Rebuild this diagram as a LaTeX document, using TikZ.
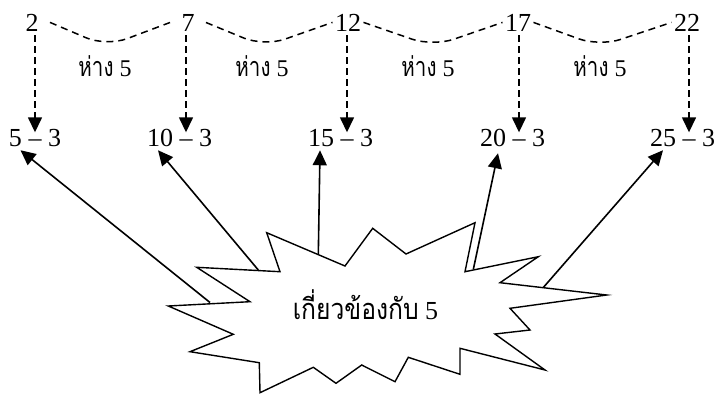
\documentclass[tikz,border=0pt]{standalone}
\usepackage{fontspec}
\setmainfont{Liberation Serif}
\newfontfamily\thaifont[Script=Thai, FakeStretch=0.76]{Loma}
\newfontfamily\thaiburst[Script=Thai, FakeStretch=0.85]{Loma}
\usetikzlibrary{arrows.meta,calc}
\begin{document}
\begin{tikzpicture}[x=1pt,y=-1pt,
  topnum/.style={font=\fontsize{26}{30}\selectfont, inner xsep=0pt, inner ysep=4pt, outer sep=0pt, minimum width=31pt},
  wide/.style={minimum width=36pt},
  num/.style={font=\fontsize{26}{30}\selectfont, inner xsep=0pt, inner ysep=4pt, outer sep=0pt},
  dashnode/.style={font=\fontsize{26}{30}\selectfont, inner xsep=0pt, inner ysep=7pt, outer sep=0pt},
  gaplabel/.style={font=\fontsize{24}{28}\selectfont, inner sep=0pt},
  burstlabel/.style={font=\fontsize{26}{30}\selectfont, inner sep=0pt},
  dashedlink/.style={line width=1.5pt, dash pattern=on 7pt off 5pt, rounded corners=22pt},
  dashedarrow/.style={line width=1.5pt, dash pattern=on 7pt off 4pt, -{Triangle[length=15pt,width=14pt]}},
  solidarrow/.style={line width=1.6pt, -{Triangle[length=15pt,width=14pt]}},
  burst/.style={line width=1.4pt, line join=miter}
]
\useasboundingbox (0,0) rectangle (720,394);

% top row
\node[topnum, wide, anchor=base] (t1) at (32,31) {2};
\node[topnum, wide, anchor=base] (t2) at (188,31) {7};
\node[topnum, anchor=base] (t3) at (348,31) {12};
\node[topnum, anchor=base] (t4) at (518,31) {17};
\node[topnum, anchor=base] (t5) at (687,31) {22};

% wavy dashed links
\draw[dashedlink] (t1.east) -- ($(t1.east)!0.47!(t2.west)+(0,24)$) -- (t2.west);
\draw[dashedlink] (t2.east) -- ($(t2.east)!0.46!(t3.west)+(0,24)$) -- (t3.west);
\draw[dashedlink] (t3.east) -- ($(t3.east)!0.50!(t4.west)+(0,24)$) -- (t4.west);
\draw[dashedlink] (t4.east) -- ($(t4.east)!0.48!(t5.west)+(0,24)$) -- (t5.west);

% gap labels
\node[gaplabel, anchor=base] (g1) at (105,76) {{\thaifont\fontsize{27}{30}\selectfont ห่าง} 5};
\node[gaplabel, anchor=base] (g2) at (262,76) {{\thaifont\fontsize{27}{30}\selectfont ห่าง} 5};
\node[gaplabel, anchor=base] (g3) at (428,76) {{\thaifont\fontsize{27}{30}\selectfont ห่าง} 5};
\node[gaplabel, anchor=base] (g4) at (600,76) {{\thaifont\fontsize{27}{30}\selectfont ห่าง} 5};

% bottom row
\node[dashnode, anchor=base] (d1) at (35,146) {–};
\node[dashnode, anchor=base] (d2) at (186,146) {–};
\node[dashnode, anchor=base] (d3) at (347,146) {–};
\node[dashnode, anchor=base] (d4) at (519,146) {–};
\node[dashnode, anchor=base] (d5) at (689,146) {–};
\foreach \i/\n in {1/5,2/10,3/15,4/20,5/25}{
  \node[num, anchor=base east] (n\i) at ([xshift=-6.5pt]d\i.base west) {\n};
  \node[num, anchor=base west] (r\i) at ([xshift=6.5pt]d\i.base east) {3};
}

% vertical dashed arrows
\foreach \i in {1,...,5}{
  \draw[dashedarrow] (t\i.south -| d\i.north) -- (d\i.north);
}

% starburst
\draw[burst] (266.7,232.7) -- (280,271.7) -- (196.7,267.3) -- (250,301.7) -- (168.3,306)
  -- (233.3,334.3) -- (190,351.7) -- (259.3,362.7) -- (260,392.7) -- (313.3,367.3)
  -- (336,383.3) -- (361.7,365) -- (395,381.7) -- (408.3,357.3) -- (460,374.3)
  -- (460,348.3) -- (545,370) -- (495,334) -- (530,330) -- (510,308.3)
  -- (606.7,295) -- (500,282.7) -- (538.3,256.7) -- (465,271.7) -- (475,222.7)
  -- (406,254) -- (372.7,228.3) -- (345,266) -- cycle;
\node[burstlabel, anchor=base] (b) at (365.5,319.5) {{\thaiburst\fontsize{29}{32}\selectfont เกี่ยวข้องกับ} 5};

\coordinate (a1) at (210,302.5);
\coordinate (a2) at (258.3,270);
\coordinate (a3) at (318.3,255);
\coordinate (a4) at (473.3,269.5);
\coordinate (a5) at (543.3,287.5);

\draw[solidarrow] (a1) -- ([xshift=5pt]n1.south);
\draw[solidarrow] (a2) -- ([xshift=-2pt]n2.south);
\draw[solidarrow] (a3) -- ([xshift=-1pt]n3.south);
\draw[solidarrow] (a4) -- ([shift={(5,3)}]n4.south);
\draw[solidarrow] (a5) -- (n5.south);
\end{tikzpicture}
\end{document}
